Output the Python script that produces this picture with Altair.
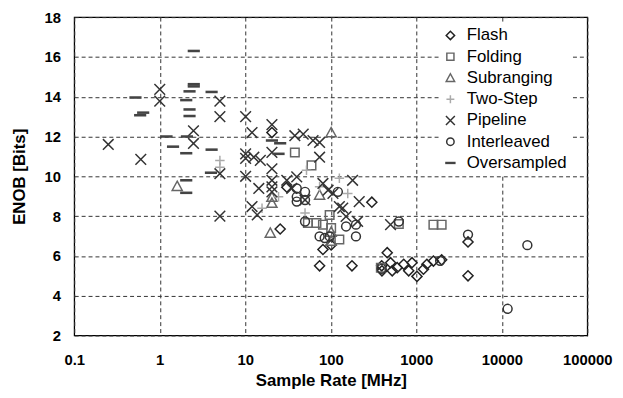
import altair as alt
import pandas as pd

types = ["Flash", "Folding", "Subranging", "Two-Step", "Pipeline", "Interleaved", "Oversampled"]

flash_rate = [20.5, 25.6, 302, 81, 101, 74, 177, 457, 394, 397, 500, 523, 598, 713, 815, 891, 1019, 1213, 1330, 1585, 1980, 4025, 4025, 30.6]
flash_enob = [12.2, 7.35, 8.7, 6.32, 6.55, 5.5, 5.5, 6.16, 5.5, 5.25, 5.66, 5.25, 5.41, 5.58, 5.25, 5.66, 4.97, 5.33, 5.58, 5.74, 5.8, 6.7, 5.0, 9.45]

folding_rate = [38, 59.5, 54, 68, 81, 97, 101, 126, 625, 1585, 1980, 385]
folding_enob = [11.2, 10.55, 7.65, 7.65, 7.57, 8.06, 7.4, 6.82, 7.6, 7.57, 7.57, 5.4]

subranging_rate = [1.6, 20.5, 20.5, 19.6, 101, 74, 101, 101]
subranging_enob = [9.5, 8.95, 8.65, 7.15, 12.2, 9.06, 7.2, 6.74]

twostep_rate = [5.05, 5.05, 15.7, 24.5, 52, 126, 74, 158, 50]
twostep_enob = [10.8, 10.46, 8.4, 8.97, 10.3, 9.9, 9.47, 9.14, 8.15]

pipeline_rate = [0.25, 0.6, 1.0, 1.0, 5.05, 5.05, 10.1, 2.48, 2.48, 5.05, 10.1, 10.1, 10.1, 5.05, 12, 20.5,
                 20.5, 15, 20.5, 20.5, 14.4, 20.5, 20.5, 12, 13.8, 30.6, 40, 35, 38, 47.6, 62, 74, 74, 81, 93,
                 106, 180, 126, 215, 151, 138, 206, 500, 12.6, 50]
pipeline_enob = [11.6, 10.85, 14.37, 13.78, 13.78, 13.0, 13.0, 12.29, 11.65, 10.13, 10.0, 11.13, 10.9, 8.0, 12.2, 12.6,
                 11.2, 10.8, 10.38, 9.8, 9.39, 9.47, 9.22, 8.48, 8.06, 9.8, 9.97, 9.39, 12.04, 12.12, 11.8, 11.7, 10.96, 9.64, 9.3,
                 9.14, 9.8, 8.48, 8.73, 7.98, 8.4, 7.73, 7.57, 10.96, 8.81]

interleaved_rate = [40, 50, 40, 50, 40, 121, 50, 151, 197, 197, 74, 85, 97, 625, 4025, 19900, 11700, 394, 1900]
interleaved_enob = [9.39, 9.22, 8.97, 8.81, 8.73, 9.22, 7.73, 7.48, 7.57, 6.98, 6.98, 6.9, 6.98, 7.73, 7.07, 6.54, 3.34, 5.35, 5.75]

oversampled_rate = [2.5, 2.5, 2.5, 2.23, 4.04, 0.52, 2.04, 0.64, 0.59, 2.23, 2.23, 1.2, 1.43, 2.08, 2.04, 4.04, 3.97,
                    2.04, 2.04, 20.5, 25.6, 24.5]
oversampled_enob = [16.3, 14.63, 14.52, 14.27, 14.24, 13.96, 13.83, 13.2, 13.07, 13.36, 13.03, 12.0, 11.49, 12.0, 11.16, 11.34, 10.18,
                    9.8, 9.17, 11.8, 11.66, 11.13]

x_ticks = [0.1, 1, 10, 100, 1000, 10000, 100000]
y_ticks = [2, 4, 6, 8, 10, 12, 14, 16, 18]

series = [
    ("Flash", flash_rate, flash_enob),
    ("Folding", folding_rate, folding_enob),
    ("Subranging", subranging_rate, subranging_enob),
    ("Two-Step", twostep_rate, twostep_enob),
    ("Pipeline", pipeline_rate, pipeline_enob),
    ("Interleaved", interleaved_rate, interleaved_enob),
    ("Oversampled", oversampled_rate, oversampled_enob),
]
frames = [pd.DataFrame({"Rate": r, "ENOB": e, "Type": t}) for t, r, e in series]
df = pd.concat(frames, ignore_index=True)

shapes = [
    "M-0.85,0L0,-0.85L0.85,0L0,0.85Z",
    "M-0.72,-0.72L0.72,-0.72L0.72,0.72L-0.72,0.72Z",
    "M0,-0.85L0.85,0.7L-0.85,0.7Z",
    "M-0.8,0L0.8,0M0,-0.8L0,0.8",
    "M-0.9,-0.9L0.9,0.9M-0.9,0.9L0.9,-0.9",
    "M-0.75,0A0.75,0.75,0,1,1,0.75,0A0.75,0.75,0,1,1,-0.75,0Z",
    "M-0.9,-0.09L0.9,-0.09L0.9,0.09L-0.9,0.09Z",
]
colors = ["#222222", "#666666", "#666666", "#aaaaaa", "#333333", "#333333", "#444444"]

FONT = "Liberation Sans"

legend = alt.Legend(
    orient="none", legendX=369, legendY=7, title=None,
    labelFontSize=17, labelFont=FONT, labelColor="black",
    symbolSize=100, symbolStrokeWidth=1.5, rowPadding=3.5,
    labelOffset=8, padding=3, fillColor="white",
)

chart = alt.Chart(df).mark_point(filled=False, size=144, strokeWidth=1.5, opacity=1).encode(
    x=alt.X("Rate:Q", title="Sample Rate [MHz]",
            scale=alt.Scale(type="log", domain=[0.1, 100000], nice=False),
            axis=alt.Axis(values=x_ticks, format="~g", grid=True, ticks=False, tickSize=0, domain=False,
                          labelPadding=17, titlePadding=6, labelFontSize=15, labelFontWeight="bold",
                          titleFontSize=17, titleFontWeight="bold", labelFont=FONT, titleFont=FONT,
                          gridDash=[4, 3], gridColor="#333333", gridWidth=1, labelColor="black",
                          titleColor="black", labelFlush=False)),
    y=alt.Y("ENOB:Q", title="ENOB [Bits]",
            scale=alt.Scale(domain=[2, 18], nice=False, zero=False),
            axis=alt.Axis(values=y_ticks, grid=True, ticks=False, tickSize=0, domain=False,
                          labelPadding=14, titlePadding=16, labelFontSize=15, labelFontWeight="bold",
                          titleFontSize=17, titleFontWeight="bold", labelFont=FONT, titleFont=FONT,
                          gridDash=[4, 3], gridColor="#333333", gridWidth=1, labelColor="black",
                          titleColor="black", labelFlush=False)),
    shape=alt.Shape("Type:N", scale=alt.Scale(domain=types, range=shapes), legend=legend),
    color=alt.Color("Type:N", scale=alt.Scale(domain=types, range=colors), legend=legend),
).properties(
    width=519, height=322,
    autosize=alt.AutoSizeParams(type="none"),
    padding={"left": 67, "top": 7, "right": 28, "bottom": 61},
).configure_view(stroke="black", strokeWidth=1.3)

chart.save("out.html", embed_options={"renderer": "svg", "actions": False})
